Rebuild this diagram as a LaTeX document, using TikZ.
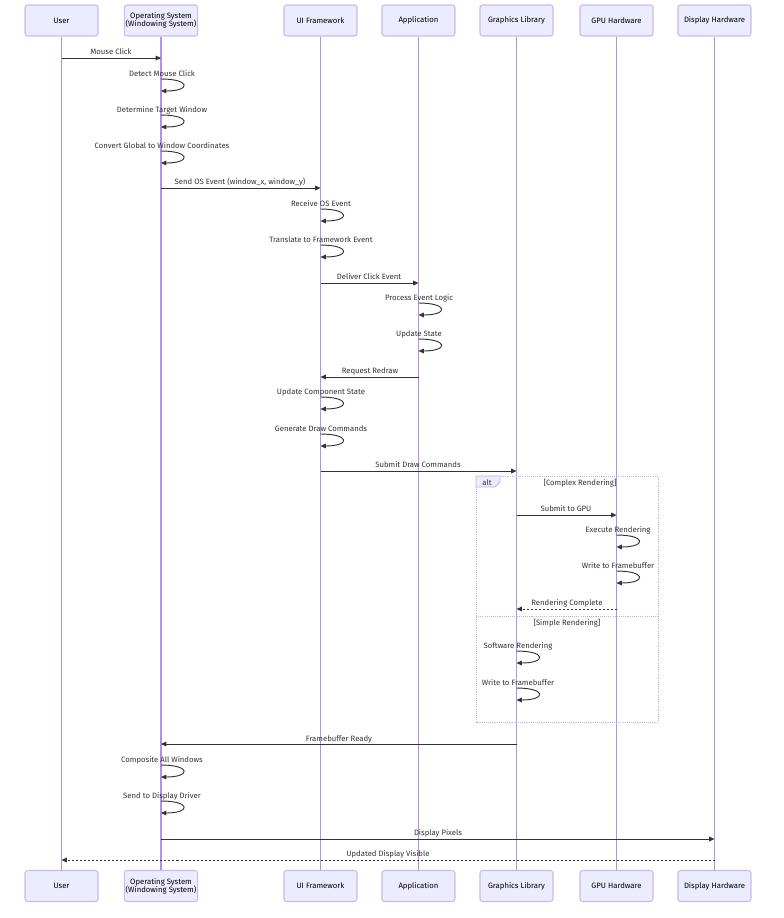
\documentclass[tikz,border=0pt]{standalone}
\usepackage{fontspec}
\setmainfont{Fira Sans}
\usetikzlibrary{arrows.meta,positioning}

\definecolor{actorfill}{HTML}{ECECFF}
\definecolor{actorline}{HTML}{C9B9F0}
\definecolor{lifecol}{HTML}{AE93E8}
\definecolor{msgcol}{HTML}{333333}

\tikzset{
  actor/.style={draw=actorline, fill=actorfill, line width=0.8pt, rounded corners=2pt,
    minimum width=54.75pt, minimum height=23.25pt, align=center, inner sep=1pt,
    font=\fontsize{5.8pt}{6.3pt}\selectfont, text=black},
  life/.style={draw=lifecol, line width=1pt},
  msg/.style={draw=msgcol, line width=0.7pt, -{Triangle[length=4pt,width=3.5pt]}},
  reply/.style={msg, dash pattern=on 1.5pt off 1.5pt},
  lbl/.style={inner sep=0pt, yshift=-0.75pt, font=\fontsize{5.8pt}{6.3pt}\selectfont, text=msgcol},
  altbox/.style={draw=lifecol!75, line width=0.6pt, dash pattern=on 0.8pt off 0.8pt}
}

\begin{document}
\begin{tikzpicture}[x=0.75pt, y=-0.75pt]
\useasboundingbox (0,0) rectangle (784,918);

% participants
\node[actor] (user) at (61.5,20.5) {User};
\node[actor] (os) at (161,20.5) {Operating System\\(Windowing System)};
\node[actor] (ui) at (320.5,20.5) {UI Framework};
\node[actor] (app) at (418.5,20.5) {Application};
\node[actor] (gl) at (516.5,20.5) {Graphics Library};
\node[actor] (gpu) at (616.5,20.5) {GPU Hardware};
\node[actor] (disp) at (714.5,20.5) {Display Hardware};

\node[actor] (userB) at (61.5,886) {User};
\node[actor] (osB) at (161,886) {Operating System\\(Windowing System)};
\node[actor] (uiB) at (320.5,886) {UI Framework};
\node[actor] (appB) at (418.5,886) {Application};
\node[actor] (glB) at (516.5,886) {Graphics Library};
\node[actor] (gpuB) at (616.5,886) {GPU Hardware};
\node[actor] (dispB) at (714.5,886) {Display Hardware};

% lifelines
\draw[life] (user) -- (userB);
\draw[life] (os) -- (osB);
\draw[life] (ui) -- (uiB);
\draw[life] (app) -- (appB);
\draw[life] (gl) -- (glB);
\draw[life] (gpu) -- (gpuB);
\draw[life] (disp) -- (dispB);

% alt frame
\draw[altbox] (476,476) rectangle (658,722);
\draw[altbox] (476,616) -- (658,616);
\draw[draw=lifecol!75, fill=actorfill, line width=0.6pt] (476,476) -- (500,476) -- (500,482) -- (495,487) -- (476,487) -- cycle;
\node[lbl] (alttag) at (487,481.5) {alt};
\node[lbl] (cond1) at (580,482) {[Complex Rendering]};
\node[lbl] (cond2) at (567,622) {[Simple Rendering]};

% messages
\draw[msg] (user |- 0,58) -- (os |- 0,58);
\node[lbl] at (111,51) {Mouse Click};
\draw[msg] (os |- 0,79) .. controls +(30,0) and +(30,0) .. (os |- 0,91);
\node[lbl] at (162,73) {Detect Mouse Click};
\draw[msg] (os |- 0,115) .. controls +(30,0) and +(30,0) .. (os |- 0,127);
\node[lbl] at (162,109) {Determine Target Window};
\draw[msg] (os |- 0,151) .. controls +(30,0) and +(30,0) .. (os |- 0,163);
\node[lbl] at (162,145) {Convert Global to Window Coordinates};
\draw[msg] (os |- 0,188) -- (ui |- 0,188);
\node[lbl] at (240,181) {Send OS Event (window\_x, window\_y)};

\draw[msg] (ui |- 0,209) .. controls +(30,0) and +(30,0) .. (ui |- 0,221);
\node[lbl] at (321,203) {Receive OS Event};
\draw[msg] (ui |- 0,245) .. controls +(30,0) and +(30,0) .. (ui |- 0,257);
\node[lbl] at (321,239) {Translate to Framework Event};
\draw[msg] (ui |- 0,283) -- (app |- 0,283);
\node[lbl] at (369,276) {Deliver Click Event};

\draw[msg] (app |- 0,303) .. controls +(30,0) and +(30,0) .. (app |- 0,315);
\node[lbl] at (419,297) {Process Event Logic};
\draw[msg] (app |- 0,339) .. controls +(30,0) and +(30,0) .. (app |- 0,351);
\node[lbl] at (419,333) {Update State};
\draw[msg] (app |- 0,377) -- (ui |- 0,377);
\node[lbl] at (370,370) {Request Redraw};

\draw[msg] (ui |- 0,397) .. controls +(30,0) and +(30,0) .. (ui |- 0,409);
\node[lbl] at (321,391) {Update Component State};
\draw[msg] (ui |- 0,434) .. controls +(30,0) and +(30,0) .. (ui |- 0,446);
\node[lbl] at (321,428) {Generate Draw Commands};
\draw[msg] (ui |- 0,471) -- (gl |- 0,471);
\node[lbl] at (418,464) {Submit Draw Commands};

\draw[msg] (gl |- 0,515) -- (gpu |- 0,515);
\node[lbl] at (566,508) {Submit to GPU};
\draw[msg] (gpu |- 0,535) .. controls +(30,0) and +(30,0) .. (gpu |- 0,547);
\node[lbl] at (618,529) {Execute Rendering};
\draw[msg] (gpu |- 0,571) .. controls +(30,0) and +(30,0) .. (gpu |- 0,583);
\node[lbl] at (618,565) {Write to Framebuffer};
\draw[reply] (gpu |- 0,609) -- (gl |- 0,609);
\node[lbl] at (567,602) {Rendering Complete};

\draw[msg] (gl |- 0,651) .. controls +(30,0) and +(30,0) .. (gl |- 0,663);
\node[lbl] at (518,645) {Software Rendering};
\draw[msg] (gl |- 0,688) .. controls +(30,0) and +(30,0) .. (gl |- 0,700);
\node[lbl] at (518,682) {Write to Framebuffer};

\draw[msg] (gl |- 0,744) -- (os |- 0,744);
\node[lbl] at (339,738) {Framebuffer Ready};
\draw[msg] (os |- 0,765) .. controls +(30,0) and +(30,0) .. (os |- 0,777);
\node[lbl] at (162,759) {Composite All Windows};
\draw[msg] (os |- 0,801) .. controls +(30,0) and +(30,0) .. (os |- 0,813);
\node[lbl] at (162,795) {Send to Display Driver};
\draw[msg] (os |- 0,839) -- (disp |- 0,839);
\node[lbl] at (438,832) {Display Pixels};
\draw[reply] (disp |- 0,860) -- (user |- 0,860);
\node[lbl] at (388,853) {Updated Display Visible};

\end{tikzpicture}
\end{document}
